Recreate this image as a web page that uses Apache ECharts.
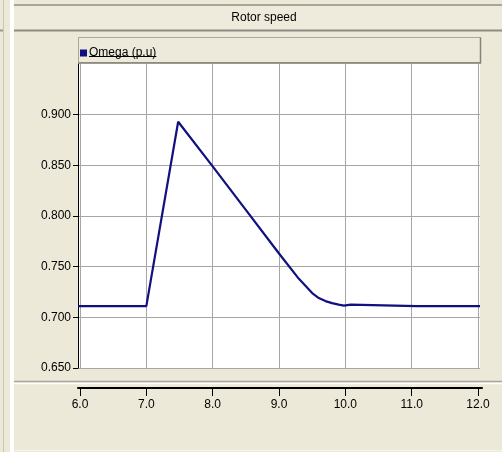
<!DOCTYPE html>
<html>
<head>
<meta charset="utf-8">
<style>
  html, body { margin: 0; padding: 0; background: #ECE9D8; }
  #chart { width: 502px; height: 452px; }
</style>
<script src="https://cdn.jsdelivr.net/npm/echarts@6/dist/echarts.min.js"></script>
</head>
<body>
<div id="chart"></div>
<script>
// Rotor speed trace (time in s, omega in p.u)
const chartTitle = 'Rotor speed';
const seriesName = 'Omega (p.u)';
const timeValues = [
  5.97, 6.045, 6.05, 6.055, 6.175, 6.18, 6.185, 6.295, 6.30, 6.305,
  6.415, 6.42, 6.425, 6.535, 6.54, 6.545, 6.665, 6.67, 6.675,
  6.785, 6.79, 6.795, 6.915, 6.92, 6.925, 7.0,
  7.48, 8.0, 8.5, 9.0, 9.3, 9.5, 9.6, 9.7, 9.8, 9.9, 9.98,
  10.0, 10.01, 10.08, 10.09, 11.075, 11.08, 11.085, 11.985, 11.99, 11.995, 12.03
];
const omegaValues = [
  0.711, 0.711, 0.7128, 0.711, 0.711, 0.7128, 0.711, 0.711, 0.7128, 0.711,
  0.711, 0.7128, 0.711, 0.711, 0.7128, 0.711, 0.711, 0.7128, 0.711,
  0.711, 0.7128, 0.711, 0.711, 0.7128, 0.711, 0.711,
  0.893, 0.849, 0.806, 0.763, 0.738, 0.724, 0.719, 0.716, 0.714, 0.7125, 0.7115,
  0.7115, 0.7125, 0.7125, 0.711, 0.711, 0.7128, 0.711, 0.711, 0.7128, 0.711, 0.711
];
const yTicks = [0.65, 0.70, 0.75, 0.80, 0.85, 0.90];
const xTicks = [6, 7, 8, 9, 10, 11, 12];

const points = timeValues.map((t, i) => [t, omegaValues[i]]);

const FONT = '"Liberation Sans Narrow", "Liberation Sans", Arial, sans-serif';
const FONT_SIZE = 12;
const BG = '#ECE9D8';

// width of the legend label, for its underline
const measureCtx = document.createElement('canvas').getContext('2d');
measureCtx.font = FONT_SIZE + 'px ' + FONT;
const legendTextWidth = measureCtx.measureText(seriesName).width;
const legendTextX = 89;

const chart = echarts.init(document.getElementById('chart'), null, { renderer: 'canvas' });

chart.setOption({
  backgroundColor: BG,
  animation: false,
  textStyle: { fontFamily: FONT },
  graphic: [
    // left strip
    { type: 'line', z: -5, shape: { x1: 3.5, y1: 0, x2: 3.5, y2: 452 }, style: { stroke: '#c9c6b6', lineWidth: 1 } },
    { type: 'rect', z: -5, shape: { x: 10, y: 0, width: 4, height: 452 }, style: { fill: '#ffffff' } },
    { type: 'line', z: -5, shape: { x1: 0, y1: 30.5, x2: 3, y2: 30.5 }, style: { stroke: '#9a988c', lineWidth: 2 } },
    // title bar
    { type: 'rect', z: -5, shape: { x: 14, y: 4, width: 488, height: 27 }, style: { fill: '#EEEBDD' } },
    { type: 'line', z: -4, shape: { x1: 14, y1: 5, x2: 502, y2: 5 }, style: { stroke: '#a8a69a', lineWidth: 2 } },
    { type: 'line', z: -4, shape: { x1: 14, y1: 30.5, x2: 502, y2: 30.5 }, style: { stroke: '#8e8c82', lineWidth: 2 } },
    { type: 'text', z: 5, x: 264, y: 18, style: { text: chartTitle, font: FONT_SIZE + 'px ' + FONT, fill: '#000', align: 'center', verticalAlign: 'middle' } },
    // legend box
    { type: 'rect', z: -4, shape: { x: 78.5, y: 37.5, width: 402, height: 25 }, style: { fill: '#EDEADC', stroke: '#a9a79b', lineWidth: 1 } },
    { type: 'polyline', z: -3, shape: { points: [[480.5, 37.5], [480.5, 63], [78.5, 63]] }, style: { stroke: '#84827a', lineWidth: 1.5, fill: null } },
    // legend underline
    { type: 'line', z: 5, shape: { x1: legendTextX, y1: 56.5, x2: legendTextX + legendTextWidth, y2: 56.5 }, style: { stroke: '#000', lineWidth: 1 } },
    // separator between plot panel and axis panel
    { type: 'line', z: -4, shape: { x1: 14, y1: 381.5, x2: 502, y2: 381.5 }, style: { stroke: '#a8a69a', lineWidth: 1.5 } },
    { type: 'line', z: -4, shape: { x1: 14, y1: 383.5, x2: 502, y2: 383.5 }, style: { stroke: '#ffffff', lineWidth: 1.5 } },
    { type: 'line', z: -4, shape: { x1: 14, y1: 450.5, x2: 502, y2: 450.5 }, style: { stroke: '#f6f4ea', lineWidth: 1 } }
  ],
  legend: {
    data: [{ name: seriesName, icon: 'rect' }],
    left: 75,
    top: 42,
    itemWidth: 7,
    itemHeight: 7,
    itemGap: 2,
    textStyle: { fontFamily: FONT, fontSize: FONT_SIZE, color: '#000', padding: [0, 0, 0, -3] },
    selectedMode: false
  },
  grid: [
    { left: 78, top: 64, width: 402, height: 304, show: true, backgroundColor: '#ffffff', borderWidth: 0 },
    { left: 78, top: 380, width: 404, height: 8, show: false }
  ],
  xAxis: [
    {
      gridIndex: 0,
      type: 'value',
      min: 5.97,
      max: 12.03,
      axisLine: { show: false },
      axisTick: { show: false, customValues: xTicks },
      axisLabel: { show: false, customValues: xTicks },
      splitLine: { show: true, lineStyle: { color: '#a6a6a6', width: 1 } }
    },
    {
      gridIndex: 1,
      type: 'value',
      min: 5.97,
      max: 12.06,
      position: 'bottom',
      axisLine: { show: true, lineStyle: { color: '#000', width: 2 } },
      axisTick: { show: true, customValues: xTicks, length: 8, lineStyle: { color: '#000', width: 1 } },
      axisLabel: {
        show: true,
        customValues: xTicks,
        margin: 11,
        fontFamily: FONT,
        fontSize: FONT_SIZE,
        color: '#000',
        formatter: v => Number(v).toFixed(1)
      },
      splitLine: { show: false }
    }
  ],
  yAxis: [
    {
      gridIndex: 0,
      type: 'value',
      min: 0.65,
      max: 0.95,
      axisLine: { show: true, onZero: false, lineStyle: { color: '#000', width: 1 } },
      axisTick: { show: true, customValues: yTicks, length: 5, lineStyle: { color: '#000' } },
      axisLabel: {
        show: true,
        customValues: yTicks,
        margin: 7,
        fontFamily: FONT,
        fontSize: FONT_SIZE,
        color: '#000',
        formatter: v => Number(v).toFixed(3)
      },
      splitLine: { show: true, lineStyle: { color: '#a6a6a6', width: 1 } }
    },
    {
      gridIndex: 1,
      type: 'value',
      show: false
    }
  ],
  series: [
    {
      name: seriesName,
      type: 'line',
      xAxisIndex: 0,
      yAxisIndex: 0,
      data: points,
      showSymbol: false,
      symbol: 'none',
      color: '#10107e',
      lineStyle: { color: '#10107e', width: 2.2 },
      clip: true
    }
  ]
});
</script>
</body>
</html>
